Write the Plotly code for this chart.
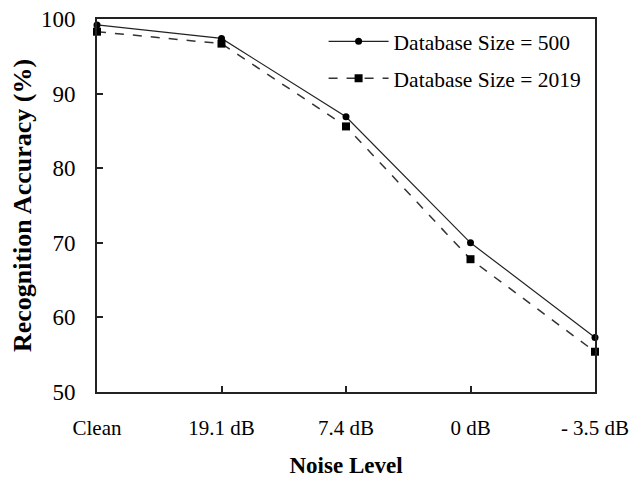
import plotly.graph_objects as go

categories = ["Clean", "19.1 dB", "7.4 dB", "0 dB", "- 3.5 dB"]
acc_500 = [99.2, 97.4, 86.9, 70.0, 57.3]
acc_2019 = [98.3, 96.7, 85.6, 67.8, 55.4]
series_names = ["Database Size = 500", "Database Size = 2019"]
y_ticks = [50, 60, 70, 80, 90, 100]

xpos = list(range(len(categories)))
font = "Liberation Serif, Times New Roman, serif"

fig = go.Figure()
fig.add_trace(go.Scatter(x=xpos, y=acc_500, name=series_names[0], mode="lines+markers",
                         legendgroup="a",
                         line=dict(color="#222", width=1.2),
                         marker=dict(symbol="circle", size=7, color="black"), cliponaxis=False))
fig.add_trace(go.Scatter(x=xpos, y=acc_2019, name=series_names[1], mode="lines+markers",
                         legendgroup="b",
                         line=dict(color="#333", width=1.5, dash="dash"),
                         marker=dict(symbol="square", size=8, color="black"), cliponaxis=False))

fig.update_layout(
    width=633, height=478,
    margin=dict(l=97, r=38, t=19, b=86),
    paper_bgcolor="white", plot_bgcolor="white",
    font=dict(family=font, size=21, color="black"),
    showlegend=True,
    legend=dict(x=0.455, y=0.995, xanchor="left", yanchor="top", bgcolor="rgba(0,0,0,0)",
                font=dict(size=21.5), tracegroupgap=6, itemwidth=60),
    xaxis=dict(range=[0, 4], tickmode="array", tickvals=xpos, ticktext=categories,
               showline=True, linecolor="#222", linewidth=2, mirror=True,
               ticks="inside", ticklen=6, tickcolor="#222", tickwidth=1.5,
               showgrid=False, zeroline=False, ticklabelstandoff=16, automargin=False,
               ticklabeloverflow="allow", tickfont=dict(size=21),
               title=dict(text="<b>Noise Level</b>", font=dict(size=23), standoff=22)),
    yaxis=dict(range=[50, 100], tickmode="array", tickvals=y_ticks,
               showline=True, linecolor="#222", linewidth=2, mirror=True,
               ticks="inside", ticklen=6, tickcolor="#222", tickwidth=1.5,
               showgrid=False, zeroline=False, ticklabelstandoff=15, automargin=False,
               ticklabeloverflow="allow", tickfont=dict(size=23),
               title=dict(text="<b>Recognition Accuracy (%)</b>", font=dict(size=26), standoff=2)),
)

fig.write_html("out.html", config={"displayModeBar": False},
               post_script="document.body.style.margin='0';document.body.style.overflow='hidden';")
